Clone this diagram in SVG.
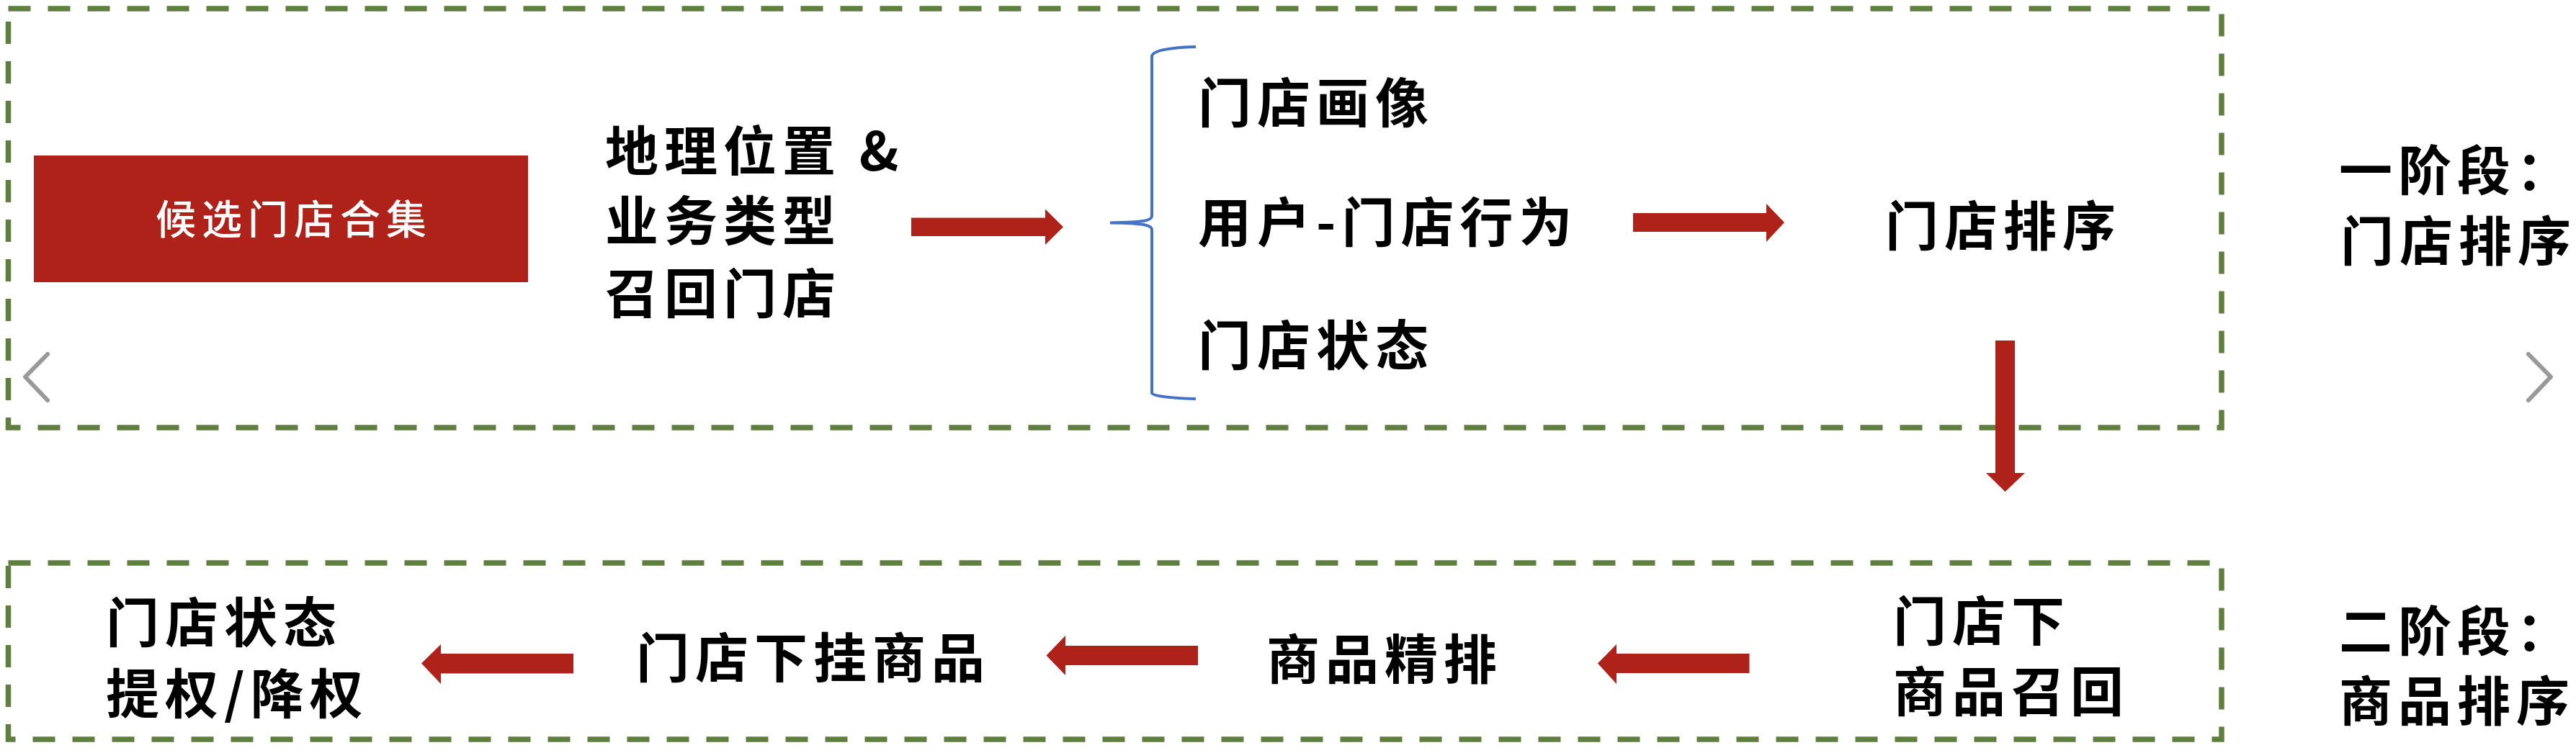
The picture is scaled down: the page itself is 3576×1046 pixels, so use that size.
<svg xmlns="http://www.w3.org/2000/svg" width="3576" height="1046" viewBox="0 0 3576 1046">
<style>
.frame{fill:none;stroke:#5F7F3F;stroke-width:7.5;stroke-dasharray:31 24;}
.t{font-family:"Noto Sans CJK SC","Noto Sans CJK TC",sans-serif;font-size:74px;font-weight:700;fill:#000;letter-spacing:8px;}
.w{font-family:"Noto Sans CJK SC","Noto Sans CJK TC",sans-serif;font-size:56px;font-weight:500;fill:#fff;letter-spacing:8px;}
.arrow{fill:#AF2219;}
.brace{fill:none;stroke:#4472C4;stroke-width:4;}
.chev{fill:none;stroke:#999;stroke-width:6;stroke-linecap:round;stroke-linejoin:round;}
</style>
<rect width="3576" height="1046" fill="#fff"/>
<g id="stage1-frame"><rect class="frame" x="11.5" y="12" width="3072.5" height="582"/></g>
<g id="stage2-frame"><rect class="frame" x="11.5" y="782" width="3072.5" height="245"/></g>
<g id="node-candidates">
<rect x="47" y="216" width="686" height="176" fill="#AF2219"/>
<text class="w" x="216" y="325">候选门店合集</text>
</g>
<g id="node-recall"><text class="t" x="840" y="236.5">地理位置 &amp;</text><text class="t" x="840" y="333.5">业务类型</text><text class="t" x="840" y="435">召回门店</text></g>
<g id="node-features">
<path class="brace" d="M1660,65 C1625,66 1600,70 1599,78 L1599,300 C1599,306 1590,309 1541,309.5 C1590,310 1599,313 1599,319 L1599,546 C1600,550 1625,553 1660,554"/>
<text class="t" x="1663" y="170">门店画像</text>
<text class="t" x="1663" y="336">用户-门店行为</text>
<text class="t" x="1663" y="507">门店状态</text>
</g>
<g id="node-store-rank"><text class="t" x="2617" y="341">门店排序</text></g>
<g id="label-stage1"><text class="t" x="3247" y="263.5">一阶段：</text><text class="t" x="3249" y="362">门店排序</text></g>
<g id="node-item-recall"><text class="t" x="2628" y="890">门店下</text><text class="t" x="2628" y="988">商品召回</text></g>
<g id="node-item-rank"><text class="t" x="1758" y="943">商品精排</text></g>
<g id="node-store-items"><text class="t" x="883" y="941">门店下挂商品</text></g>
<g id="node-boost"><text class="t" x="147" y="892">门店状态</text><text class="t" x="147" y="991">提权/降权</text></g>
<g id="label-stage2"><text class="t" x="3247" y="904">二阶段：</text><text class="t" x="3247" y="1001">商品排序</text></g>
<g id="nav">
<polyline class="chev" points="66,492 35,523.5 66,556"/>
<polyline class="chev" points="3510,492 3541,523.5 3510,556"/>
</g>
<g id="connectors">
<path class="arrow" d="M1265,302.5 H1451 V290.5 L1476,315.3 L1451,340 V328 H1265 Z"/>
<path class="arrow" d="M2267,296 H2452 V283 L2477,309 L2452,336 V322 H2267 Z"/>
<path class="arrow" d="M2770,473 H2797 V657 H2811 L2783.5,683 L2757,657 H2770 Z"/>
<path class="arrow" d="M2428.5,908 H2244 V895 L2218,921.5 L2244,950 V935 H2428.5 Z"/>
<path class="arrow" d="M1663,897 H1479 V883 L1452.5,910.5 L1479,938 V924 H1663 Z"/>
<path class="arrow" d="M796,908 H612 V895 L585,921.5 L612,950 V935.5 H796 Z"/>
</g>
</svg>
